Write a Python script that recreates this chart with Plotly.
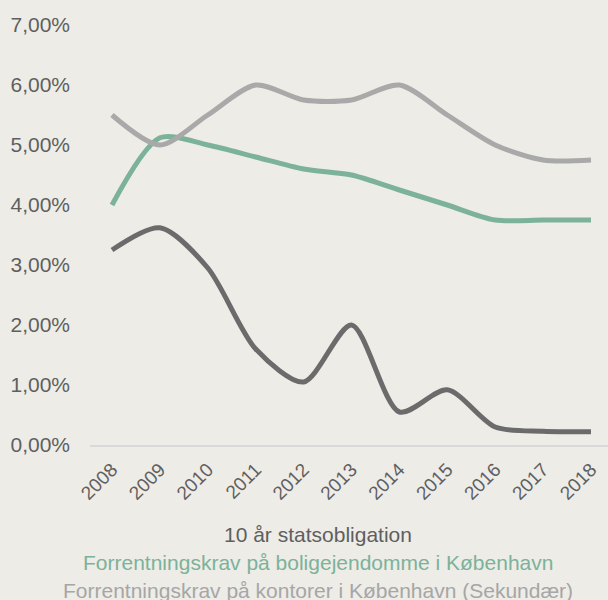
import plotly.graph_objects as go

years = ["2008", "2009", "2010", "2011", "2012", "2013", "2014", "2015", "2016", "2017", "2018"]
statsobligation = [3.25, 3.62, 2.95, 1.60, 1.05, 2.00, 0.55, 0.92, 0.30, 0.23, 0.22]
bolig = [4.00, 5.12, 5.00, 4.80, 4.60, 4.50, 4.25, 4.00, 3.75, 3.75, 3.75]
kontor = [5.50, 5.00, 5.50, 6.00, 5.75, 5.75, 6.00, 5.50, 5.00, 4.75, 4.75]
names = ["10 år statsobligation",
         "Forrentningskrav på boligejendomme i København",
         "Forrentningskrav på kontorer i København (Sekundær)"]
colors = ["#6b6b6b", "#7cb299", "#a9a9a9"]
text_colors = ["#5f5f5f", "#7cb299", "#a6a6a6"]
y_ticks = [0, 1, 2, 3, 4, 5, 6, 7]
y_ticktext = ["0,00%", "1,00%", "2,00%", "3,00%", "4,00%", "5,00%", "6,00%", "7,00%"]

x_idx = list(range(len(years)))
fig = go.Figure()
for vals, name, col in zip([statsobligation, bolig, kontor], names, colors):
    fig.add_trace(go.Scatter(x=x_idx, y=vals, name=name, mode="lines",
                             line=dict(color=col, width=5, shape="spline", smoothing=0.8),
                             cliponaxis=False, showlegend=False, hoverinfo="skip"))

left_px, top_px, bottom_px = 90, 25, 445
W = 608 - left_px
H = bottom_px - top_px
legend_y_px = [534, 562, 590]
for name, tc, ypx in zip(names, text_colors, legend_y_px):
    fig.add_annotation(text=name, xref="paper", yref="paper",
                       x=(318 - left_px) / W, y=(bottom_px - ypx) / H,
                       showarrow=False, xanchor="center", yanchor="middle",
                       font=dict(size=21, color=tc))

fig.update_layout(
    width=608, height=600,
    margin=dict(l=left_px, r=0, t=top_px, b=600 - bottom_px, pad=0),
    paper_bgcolor="#edece7", plot_bgcolor="#edece7",
    font=dict(family="Liberation Sans, Arial, sans-serif", color="#5f5f5f", size=21),
    xaxis=dict(range=[-0.459, 10.355], tickmode="array", tickvals=x_idx, ticktext=years,
               tickangle=-45, showgrid=False, zeroline=False, showline=True,
               linecolor="#d9d9d9", linewidth=2, ticks="", ticklabelstandoff=4,
               tickfont=dict(size=19, color="#5f5f5f")),
    yaxis=dict(range=[0, 7], tickmode="array", tickvals=y_ticks, ticktext=y_ticktext,
               showgrid=False, zeroline=False, showline=False, ticks="",
               tickfont=dict(size=21, color="#5f5f5f"), ticklabelstandoff=19),
)
fig.write_html("out.html", config={"displayModeBar": False},
               post_script="document.body.style.margin='0';document.body.style.background='#edece7';")
